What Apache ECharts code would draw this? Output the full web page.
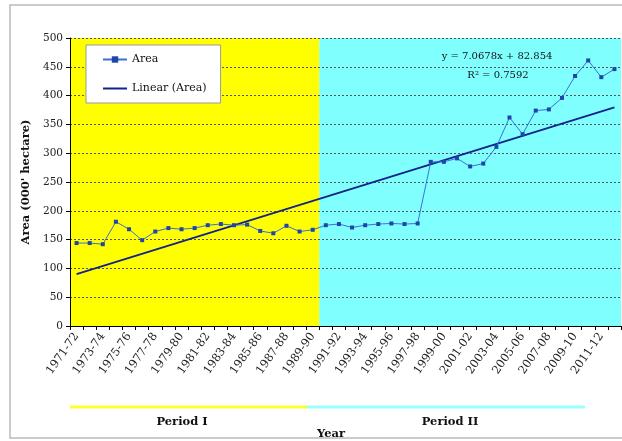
<!DOCTYPE html>
<html><head><meta charset="utf-8">
<script src="https://cdn.jsdelivr.net/npm/echarts@6/dist/echarts.min.js"></script>
<style>html,body{margin:0;padding:0;background:#fff}#c{width:622px;height:441px}</style>
</head><body><div id="c"></div>
<script>
const categories = ['1971-72','1972-73','1973-74','1974-75','1975-76','1976-77','1977-78','1978-79','1979-80','1980-81',
  '1981-82','1982-83','1983-84','1984-85','1985-86','1986-87','1987-88','1988-89','1989-90','1990-91',
  '1991-92','1992-93','1993-94','1994-95','1995-96','1996-97','1997-98','1998-99','1999-00','2000-01',
  '2001-02','2002-03','2003-04','2004-05','2005-06','2006-07','2007-08','2008-09','2009-10','2010-11',
  '2011-12','2012-13'];
const areaValues = [144,144,142,181,168,149,164,170,168,170,
  175,177,175,176,165,161,174,164,167,175,
  177,171,175,177,178,177,178,285,285,291,
  277,282,311,362,333,374,376,396,434,461,
  432,446];
// trend line as printed in the chart: y = 7.0678x + 82.854, R² = 0.7592
const trendSlope = 7.0678;
const trendIntercept = 82.854;
const trendLabel = 'y = 7.0678x + 82.854';
const r2Label = 'R² = 0.7592';
const periodIEnd = 19;   // number of categories in Period I
const yTicks = [0,50,100,150,200,250,300,350,400,450,500];

const n = categories.length;
const trendValues = categories.map((c, i) => (i === 0 || i === n - 1) ? trendSlope * (i + 1) + trendIntercept : null);

const serif = 'DejaVu Serif';
const chart = echarts.init(document.getElementById('c'));
chart.setOption({
  animation: false,
  grid: {left: 70, top: 38, width: 551, height: 288},
  legend: {
    left: 86, top: 45, orient: 'vertical', itemGap: 18, itemWidth: 24, itemHeight: 8,
    padding: [9, 14, 9, 16],
    backgroundColor: '#fff', borderColor: '#999', borderWidth: 1,
    textStyle: {fontFamily: serif, fontSize: 11, color: '#111'},
    data: ['Area', 'Linear (Area)']
  },
  xAxis: [{
    type: 'category', data: categories, boundaryGap: true, z: 3,
    axisLine: {lineStyle: {color: '#000', width: 1}},
    axisTick: {show: true, interval: 0, length: 4, lineStyle: {color: '#000'}},
    axisLabel: {interval: 1, rotate: 55, fontFamily: serif, fontSize: 11.5, color: '#222', margin: 8},
    splitLine: {show: false}
  }, {
    type: 'value', min: 0, max: n, show: false
  }],
  yAxis: {
    type: 'value', min: 0, max: 500, interval: 50, z: 3,
    name: "Area (000' hectare)", nameLocation: 'middle', nameGap: 38,
    nameTextStyle: {fontFamily: serif, fontSize: 11.5, fontWeight: 'bold', color: '#111'},
    axisLine: {show: true, lineStyle: {color: '#000'}},
    axisTick: {show: true, length: 4, lineStyle: {color: '#000'}},
    axisLabel: {fontFamily: serif, fontSize: 10.5, color: '#222', margin: 7},
    splitLine: {show: true, lineStyle: {color: '#555', type: [2, 2], width: 1}}
  },
  series: [{
    name: 'bg', type: 'line', xAxisIndex: 1, data: [], silent: true,
    markArea: {
      silent: true, z: 0,
      data: [
        [{xAxis: 0, itemStyle: {color: '#ffff00', opacity: 1}}, {xAxis: periodIEnd}],
        [{xAxis: periodIEnd, itemStyle: {color: '#80ffff', opacity: 1}}, {xAxis: n}]
      ]
    }
  }, {
    name: 'Area', type: 'line', data: areaValues, z: 5,
    symbol: 'rect', symbolSize: 4, showSymbol: true,
    lineStyle: {color: '#3d6fd6', width: 1},
    itemStyle: {color: '#1f45a8'}
  }, {
    name: 'Linear (Area)', type: 'line', data: trendValues, connectNulls: true, z: 4,
    showSymbol: false, symbol: 'none',
    lineStyle: {color: '#14238a', width: 1.8},
    itemStyle: {color: 'rgba(0,0,0,0)', borderColor: 'rgba(0,0,0,0)', borderWidth: 0}
  }],
  graphic: [
    {type: 'rect', shape: {x: 10, y: 5, width: 620, height: 433}, style: {fill: 'none', stroke: '#bbb', lineWidth: 1.5}, z: -10},
    {type: 'text', x: 497, y: 56, style: {text: trendLabel, font: '10px "DejaVu Serif"', fill: '#111', textAlign: 'center', textVerticalAlign: 'middle'}, z: 10},
    {type: 'text', x: 498, y: 75, style: {text: r2Label, font: '10px "DejaVu Serif"', fill: '#111', textAlign: 'center', textVerticalAlign: 'middle'}, z: 10},
    {type: 'line', shape: {x1: 70, y1: 407, x2: 307, y2: 407}, style: {stroke: '#ffff30', lineWidth: 3}},
    {type: 'line', shape: {x1: 307, y1: 407, x2: 585, y2: 407}, style: {stroke: '#99ffff', lineWidth: 3}},
    {type: 'text', x: 182, y: 422, style: {text: 'Period I', font: 'bold 11.5px "DejaVu Serif"', fill: '#111', textAlign: 'center', textVerticalAlign: 'middle'}},
    {type: 'text', x: 450, y: 422, style: {text: 'Period II', font: 'bold 11.5px "DejaVu Serif"', fill: '#111', textAlign: 'center', textVerticalAlign: 'middle'}},
    {type: 'text', x: 331, y: 434, style: {text: 'Year', font: 'bold 11.5px "DejaVu Serif"', fill: '#111', textAlign: 'center', textVerticalAlign: 'middle'}}
  ]
});
</script>
</body></html>
